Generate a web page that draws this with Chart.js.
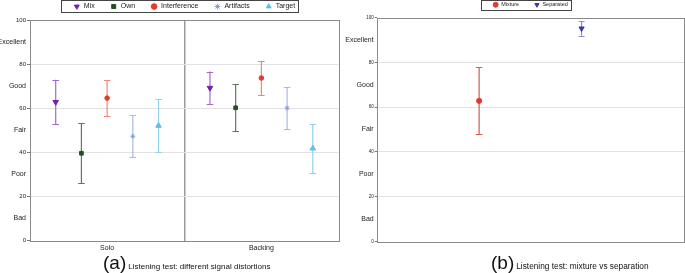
<!DOCTYPE html>
<html>
<head>
<meta charset="utf-8">
<script src="https://cdn.jsdelivr.net/npm/chart.js@4.4.0/dist/chart.umd.min.js"></script>
<style>
body{margin:0;background:#fff;width:685px;height:273px;overflow:hidden;position:relative;font-family:"Liberation Sans",Arial,sans-serif;}
#boxA{position:absolute;left:0;top:0;width:340px;height:256px;}
#boxB{position:absolute;left:340px;top:0;width:345px;height:256px;}
.cap{position:absolute;top:253px;display:flex;align-items:baseline;color:#111;white-space:nowrap;}
.cap .big{font-size:19px;line-height:19px;}
.cap .small{margin-left:2px;}
</style>
</head>
<body>
<div id="boxA"><canvas id="chartA"></canvas></div>
<div id="boxB"><canvas id="chartB"></canvas></div>
<div class="cap" style="left:103px"><span class="big">(a)</span><span class="small" style="font-size:8px">Listening test: different signal distortions</span></div>
<div class="cap" style="left:491px"><span class="big">(b)</span><span class="small" style="font-size:8.3px">Listening test: mixture vs separation</span></div>
<script>

// Panel (a) data: mean score and error half width per category

const categoriesA = ["Solo", "Backing"];

const meanMix = [62.8, 69.2];
const errMix = [10.1, 7.4];

const meanOwn = [39.6, 60.2];
const errOwn = [13.5, 10.6];

const meanInterference = [64.6, 73.7];
const errInterference = [8.2, 7.8];

const meanArtifacts = [47.3, 60.1];
const errArtifacts = [9.6, 9.5];

const meanTarget = [52.1, 41.8];
const errTarget = [11.9, 11.1];

// Panel (b) data

const categoriesB = [""];

const meanMixture = [62.8];
const errMixture = [14.9];

const meanSeparated = [95.1];
const errSeparated = [3.3];

// y axis labels, one per step of 10

const yTickLabels = [
"0",
"Bad",
"20",
"Poor",
"40",
"Fair",
"60",
"Good",
"80",
"Excellent",
"100"
];

function errorSet(label, means, errs, look){

return {
label: label,
data: means.map((m, i) => [m - errs[i], m + errs[i]]),
means: means,
look: look,
backgroundColor: look.bar
};

}

// caps and markers on top of the thin floating bars

const errorBars = {

id: "errorBars",

afterDatasetsDraw(chart){

const ctx = chart.ctx;
const yScale = chart.scales.y;

chart.data.datasets.forEach((ds, i) => {

const meta = chart.getDatasetMeta(i);

meta.data.forEach((bar, j) => {

ctx.save();

ctx.strokeStyle = ds.look.bar;
ctx.lineWidth = 1;
ctx.beginPath();

[bar.y, bar.base].forEach(py => {
const yy = Math.round(py) + 0.5;
ctx.moveTo(bar.x - ds.look.cap, yy);
ctx.lineTo(bar.x + ds.look.cap, yy);
});

ctx.stroke();

ctx.fillStyle = ds.look.color;
ctx.strokeStyle = ds.look.color;
ctx.lineWidth = 1;

Chart.helpers.drawPoint(ctx, {
pointStyle: ds.look.shape,
rotation: ds.look.rotation,
radius: ds.look.radius,
borderWidth: 1
}, bar.x, yScale.getPixelForValue(ds.means[j]));

ctx.restore();

});

});

}

};

// plot box and legend box

const frames = {

id: "frames",

afterDraw(chart, args, opts){

const ctx = chart.ctx;
const a = chart.chartArea;

ctx.save();
ctx.strokeStyle = "#8a8a8a";
ctx.lineWidth = 1;
ctx.strokeRect(Math.round(a.left) + 0.5, Math.round(a.top) + 0.5,
Math.round(a.right - a.left), Math.round(a.bottom - a.top));

const boxes = chart.legend.legendHitBoxes;

if(boxes && boxes.length){

const last = boxes[boxes.length - 1];
const left = Math.round(boxes[0].left - opts.padLeft);
const right = Math.round(last.left + last.width + opts.padRight);

ctx.strokeStyle = "#444";
ctx.strokeRect(left + 0.5, opts.top + 0.5, right - left, opts.height);

}

ctx.restore();

}

};

function legendItems(chart){

return chart.data.datasets.map((ds, i) => ({
text: ds.label,
fillStyle: ds.look.color,
strokeStyle: ds.look.color,
lineWidth: 1,
pointStyle: ds.look.shape,
rotation: ds.look.rotation,
fontColor: "#222",
hidden: false,
datasetIndex: i
}));

}

function yAxis(width, numSize, wordSize, tickLen){

return {

min: 0,
max: 100,

afterFit: scale => { scale.width = width; },

border: {display: false},

grid: {
color: c => (c.tick.value % 20 === 0 && c.tick.value > 0 && c.tick.value < 100) ? "#e2e2e2" : "rgba(0,0,0,0)",
tickColor: c => c.tick.value % 20 === 0 ? "#777" : "rgba(0,0,0,0)",
tickLength: tickLen
},

ticks: {
stepSize: 10,
autoSkip: false,
padding: 1,
color: "#222",
callback: v => yTickLabels[Math.round(v / 10)],
font: c => ({size: c.tick && c.tick.value % 20 === 0 ? numSize : wordSize})
}

};

}

// Panel (a)

const chartA =
document.getElementById("chartA");

if(chartA){

new Chart(chartA, {

type: "bar",

data: {

labels: categoriesA,

datasets: [
errorSet("Mix", meanMix, errMix, {color: "#7420a6", bar: "#a468cc", shape: "triangle", rotation: 180, radius: 3.2, cap: 3.3}),
errorSet("Own", meanOwn, errOwn, {color: "#244f24", bar: "#5f7a5f", shape: "rect", rotation: 0, radius: 2.6, cap: 3.3}),
errorSet("Interference", meanInterference, errInterference, {color: "#e23a30", bar: "#f08878", shape: "circle", rotation: 0, radius: 2.3, cap: 3.3}),
errorSet("Artifacts", meanArtifacts, errArtifacts, {color: "#8a9ed6", bar: "#a9b9e2", shape: "star", rotation: 0, radius: 2.4, cap: 3.3}),
errorSet("Target", meanTarget, errTarget, {color: "#5cc0e8", bar: "#92d2ee", shape: "triangle", rotation: 0, radius: 3.2, cap: 3.3})
]

},

options: {

responsive: true,
maintainAspectRatio: false,
animation: false,

layout: {padding: {top: -12.5, right: 1.5, bottom: 1, left: 0}},

datasets: {bar: {categoryPercentage: 5 / 6, barPercentage: 1, maxBarThickness: 1.2}},

scales: {

x: {
border: {display: false},
grid: {
offset: true,
drawTicks: false,
color: c => c.index === 1 ? "#9a9a9a" : "rgba(0,0,0,0)",
lineWidth: c => c.index === 1 ? 1.5 : 1
},
ticks: {font: {size: 7}, color: "#222", padding: 3}
},

y: yAxis(30, 6, 7, 3)

},

plugins: {

legend: {
position: "top",
fullSize: false,
labels: {
usePointStyle: true,
boxWidth: 7,
boxHeight: 4,
padding: 15.5,
font: {size: 7},
color: "#222",
generateLabels: legendItems
}
},

tooltip: {enabled: false},

frames: {padLeft: 12, padRight: 3, top: 0, height: 12}

}

},

plugins: [errorBars, frames]

});

}

// Panel (b)

const chartB =
document.getElementById("chartB");

if(chartB){

new Chart(chartB, {

type: "bar",

data: {

labels: categoriesB,

datasets: [
errorSet("Mixture", meanMixture, errMixture, {color: "#e03a30", bar: "#d85a50", shape: "circle", rotation: 0, radius: 2.6, cap: 3.3}),
errorSet("Separated", meanSeparated, errSeparated, {color: "#3a3aa6", bar: "#8c8cc8", shape: "triangle", rotation: 180, radius: 3, cap: 3})
]

},

options: {

responsive: true,
maintainAspectRatio: false,
animation: false,

layout: {padding: {top: -13, right: 1, bottom: 14.5, left: 0}},

datasets: {bar: {categoryPercentage: 2 / 3, barPercentage: 1, maxBarThickness: 1.2}},

scales: {

x: {
border: {display: false},
grid: {display: false, drawTicks: false},
ticks: {display: false}
},

y: yAxis(36.7, 4.5, 7, 2)

},

plugins: {

legend: {
position: "top",
fullSize: false,
labels: {
usePointStyle: true,
boxWidth: 5.5,
boxHeight: 3.5,
padding: 15,
font: {size: 5.5},
color: "#222",
generateLabels: legendItems
}
},

tooltip: {enabled: false},

frames: {padLeft: 12, padRight: 3, top: 0, height: 10}

}

},

plugins: [errorBars, frames]

});

}

</script>
</body>
</html>
